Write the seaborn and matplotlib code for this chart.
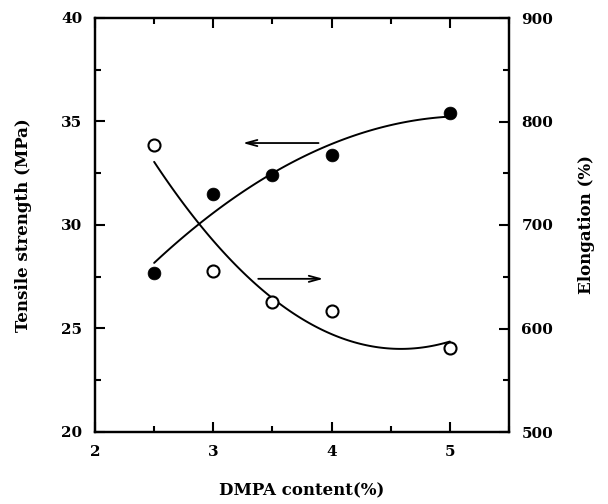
import numpy as np
import pandas as pd
import matplotlib
matplotlib.use("Agg")
import matplotlib.pyplot as plt
from matplotlib.ticker import MultipleLocator
import seaborn as sns

dmpa = [2.5, 3.0, 3.5, 4.0, 5.0]
tensile = [27.7, 31.5, 32.4, 33.4, 35.4]
elongation = [777, 656, 626, 617, 581]

x_label = "DMPA content(%)"
y_label_left = "Tensile strength (MPa)"
y_label_right = "Elongation (%)"

sns.set_style("ticks")
plt.rcParams["font.family"] = ["DejaVu Serif"]
plt.rcParams["font.weight"] = "bold"
for k in ("text.color", "axes.labelcolor", "xtick.color", "ytick.color", "axes.edgecolor"):
    plt.rcParams[k] = "black"

df = pd.DataFrame({"dmpa": dmpa, "tensile": tensile, "elong": elongation})

fig = plt.figure(figsize=(6.08, 5.04), dpi=100)
ax = fig.add_axes([95/608, 1-432/504, (509-95)/608, (432-18)/504])
ax2 = ax.twinx()

# tensile: filled
sns.regplot(data=df, x="dmpa", y="tensile", order=2, ci=None, scatter=False,
            ax=ax, color="black", line_kws=dict(lw=1.4))
sns.scatterplot(data=df, x="dmpa", y="tensile", ax=ax, color="black",
                s=85, marker="o", edgecolor="black", linewidth=0.5, zorder=5)

# elongation: open
sns.regplot(data=df, x="dmpa", y="elong", order=2, ci=None, scatter=False,
            ax=ax2, color="black", line_kws=dict(lw=1.4))
sns.scatterplot(data=df, x="dmpa", y="elong", ax=ax2, facecolor="white",
                edgecolor="black", s=75, marker="o", linewidth=1.5, zorder=5)

ax.set_xlim(2, 5.5)
ax.set_ylim(20, 40)
ax2.set_ylim(500, 900)

ax.xaxis.set_major_locator(MultipleLocator(1))
ax.xaxis.set_minor_locator(MultipleLocator(0.5))
ax.yaxis.set_major_locator(MultipleLocator(5))
ax.yaxis.set_minor_locator(MultipleLocator(2.5))
ax2.yaxis.set_major_locator(MultipleLocator(100))
ax2.yaxis.set_minor_locator(MultipleLocator(50))

ax.set_xticks([2, 3, 4, 5])
ax.set_xticklabels(["2", "3", "4", "5"])

for a in (ax, ax2):
    for s in a.spines.values():
        s.set_linewidth(1.6)
        s.set_visible(True)
        s.set_color("black")
ax.tick_params(axis="both", which="major", direction="in", length=7, width=1.5,
               labelsize=11, pad=9, top=True)
ax.tick_params(axis="both", which="minor", direction="in", length=4.5, width=1.5, top=True)
ax.tick_params(axis="y", which="both", right=False)
ax2.tick_params(axis="y", which="major", direction="in", length=7, width=1.5,
                labelsize=11, pad=9)
ax2.tick_params(axis="y", which="minor", direction="in", length=4.5, width=1.5)

ax.set_xlabel(x_label, fontsize=12, fontweight="bold", labelpad=17)
ax.set_ylabel(y_label_left, fontsize=12, fontweight="bold", labelpad=21)
ax2.set_ylabel(y_label_right, fontsize=12, fontweight="bold", labelpad=18)

ax.annotate("", xy=(3.25, 33.96), xytext=(3.89, 33.96),
            arrowprops=dict(arrowstyle="->,head_length=0.8,head_width=0.22",
                            color="black", lw=1.3, shrinkA=0, shrinkB=0))
ax.annotate("", xy=(3.93, 27.4), xytext=(3.38, 27.4),
            arrowprops=dict(arrowstyle="->,head_length=0.8,head_width=0.22",
                            color="black", lw=1.3, shrinkA=0, shrinkB=0))

fig.savefig("out.png", dpi=100)
